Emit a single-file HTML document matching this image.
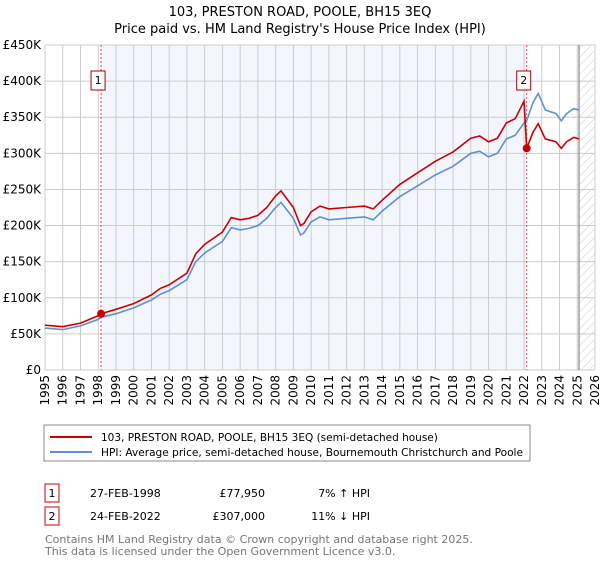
<!DOCTYPE html>
<html><head><meta charset="utf-8"><style>
body{margin:0;background:#fff;font-family:"Liberation Sans","DejaVu Sans",sans-serif}
</style></head><body>
<svg id="c" width="600" height="560" xmlns="http://www.w3.org/2000/svg" font-family="DejaVu Sans, Liberation Sans, sans-serif">
<defs><pattern id="hatch" width="6" height="6" patternUnits="userSpaceOnUse" patternTransform="rotate(45)"><line x1="0" y1="0" x2="0" y2="6" stroke="#ccc" stroke-width="1"/></pattern></defs>
<text x="300" y="16" text-anchor="middle" font-size="13">103, PRESTON ROAD, POOLE, BH15 3EQ</text>
<text x="300" y="33" text-anchor="middle" font-size="13">Price paid vs. HM Land Registry's House Price Index (HPI)</text>
<g id="plot"></g>
<rect x="44" y="425" width="486" height="36" fill="#fff" stroke="#888"/>
<line x1="50" y1="437" x2="92" y2="437" stroke="#cc0000" stroke-width="2"/>
<text x="101" y="441" font-size="10.5">103, PRESTON ROAD, POOLE, BH15 3EQ (semi-detached house)</text>
<line x1="50" y1="452" x2="92" y2="452" stroke="#6090d0" stroke-width="2"/>
<text x="101" y="456" font-size="10.5" textLength="422" lengthAdjust="spacingAndGlyphs">HPI: Average price, semi-detached house, Bournemouth Christchurch and Poole</text>
<g font-size="11">
<rect x="45" y="484" width="14" height="18" fill="#fff" stroke="#cc0000"/><text x="52" y="497" text-anchor="middle">1</text>
<text x="90" y="497">27-FEB-1998</text><text x="265" y="497" text-anchor="end">£77,950</text><text x="370" y="497" text-anchor="end">7% ↑ HPI</text>
<rect x="45" y="507" width="14" height="18" fill="#fff" stroke="#cc0000"/><text x="52" y="520" text-anchor="middle">2</text>
<text x="90" y="520">24-FEB-2022</text><text x="265" y="520" text-anchor="end">£307,000</text><text x="370" y="520" text-anchor="end">11% ↓ HPI</text>
</g>
<text x="45" y="543" font-size="11" fill="#777">Contains HM Land Registry data © Crown copyright and database right 2025.</text>
<text x="45" y="555" font-size="11" fill="#777">This data is licensed under the Open Government Licence v3.0.</text>
</svg>
<script>
const years=[1995,1996,1997,1998,1998.16,1999,2000,2001,2001.5,2002,2003,2003.5,2004,2005,2005.5,2006,2006.5,2007,2007.5,2008,2008.3,2009,2009.4,2009.6,2010,2010.5,2011,2012,2013,2013.5,2014,2015,2016,2017,2018,2019,2019.5,2020,2020.5,2021,2021.5,2022,2022.15,2022.5,2022.8,2023.2,2023.8,2024.1,2024.4,2024.8,2025.1];
const hpiValues=[58,56,61,70,73,78,86,97,105,110,125,150,162,178,197,194,196,200,210,225,232,210,187,190,205,212,208,210,212,208,220,240,255,270,282,300,303,295,300,320,325,342,345,370,383,360,355,345,355,362,360];
const propertyValues=[62,60,65,75,78,84,92,104,113,118,134,161,174,191,211,208,210,214,225,241,248,225,200,203,219,227,223,225,227,223,235,257,273,289,302,321,324,316,321,342,348,372,307,329,341,320,316,307,316,322,320];
const saleYears=[1998.16,2022.15];
const salePrices=[77.95,307];
const saleLabels=["1","2"];
const yTicks=[0,50,100,150,200,250,300,350,400,450];
const yTickLabels=["£0","£50K","£100K","£150K","£200K","£250K","£300K","£350K","£400K","£450K"];
const xTicks=[1995,1996,1997,1998,1999,2000,2001,2002,2003,2004,2005,2006,2007,2008,2009,2010,2011,2012,2013,2014,2015,2016,2017,2018,2019,2020,2021,2022,2023,2024,2025,2026];
const X0=45,X1=595,Y0=370,Y1=45;
const xs=y=>X0+(y-1995)/(2026-1995)*(X1-X0);
const ys=v=>Y0-v/450*(Y0-Y1);
const NS="http://www.w3.org/2000/svg";
const g=document.getElementById('plot');
function mk(t,a){const e=document.createElementNS(NS,t);for(const k in a)e.setAttribute(k,a[k]);g.appendChild(e);return e;}
let e;
e=mk('rect',{x:xs(saleYears[0]),y:Y1,width:xs(saleYears[1])-xs(saleYears[0]),height:Y0-Y1,fill:'#eef3fc',opacity:0.7});


e=mk('rect',{x:xs(2025.1),y:Y1,width:X1-xs(2025.1),height:Y0-Y1,fill:'url(#hatch)'});


yTicks.forEach((t,i)=>{
 mk('line',{x1:X0,x2:X1,y1:ys(t),y2:ys(t),stroke:'#ccc'});
 e=mk('text',{x:X0-4,y:ys(t)+4,'text-anchor':'end','font-size':12});e.textContent=yTickLabels[i];
 
 
});
xTicks.forEach(t=>{
 mk('line',{x1:xs(t),x2:xs(t),y1:Y1,y2:Y0,stroke:'#ccc'});
 e=mk('text',{x:0,y:0,'text-anchor':'end','font-size':12,transform:`translate(${xs(t)+4},${Y0+5}) rotate(-90)`});e.textContent=t;
 
 
});
mk('rect',{x:X0,y:Y1,width:X1-X0,height:Y0-Y1,fill:'none',stroke:'#ccc'});
mk('line',{x1:xs(2025.1),x2:xs(2025.1),y1:Y1,y2:Y0,stroke:'#888','stroke-width':1.2});
saleYears.forEach((s,i)=>{
 e=mk('line',{x1:xs(s),x2:xs(s),y1:Y1,y2:Y0,stroke:'#e05050','stroke-dasharray':'2,2'});
 
 
});
const pts=v=>years.map((y,i)=>xs(y).toFixed(1)+','+ys(v[i]).toFixed(1)).join(' ');
e=mk('polyline',{points:pts(hpiValues),fill:'none',stroke:'#6090d0','stroke-width':1.6});


e=mk('polyline',{points:pts(propertyValues),fill:'none',stroke:'#cc0000','stroke-width':1.6});


saleYears.forEach((s,i)=>{
 e=mk('circle',{cx:xs(s),cy:ys(salePrices[i]),r:4,fill:'#cc0000'});
 
 
 const bx=xs(s)-9;
 e=mk('rect',{x:bx-1,y:71,width:14,height:19,fill:'#fff',stroke:'#aa0000'});
 
 
 e=mk('text',{x:bx+6,y:84,'text-anchor':'middle','font-size':11});e.textContent=saleLabels[i];
 
 
});
</script>
</body></html>
